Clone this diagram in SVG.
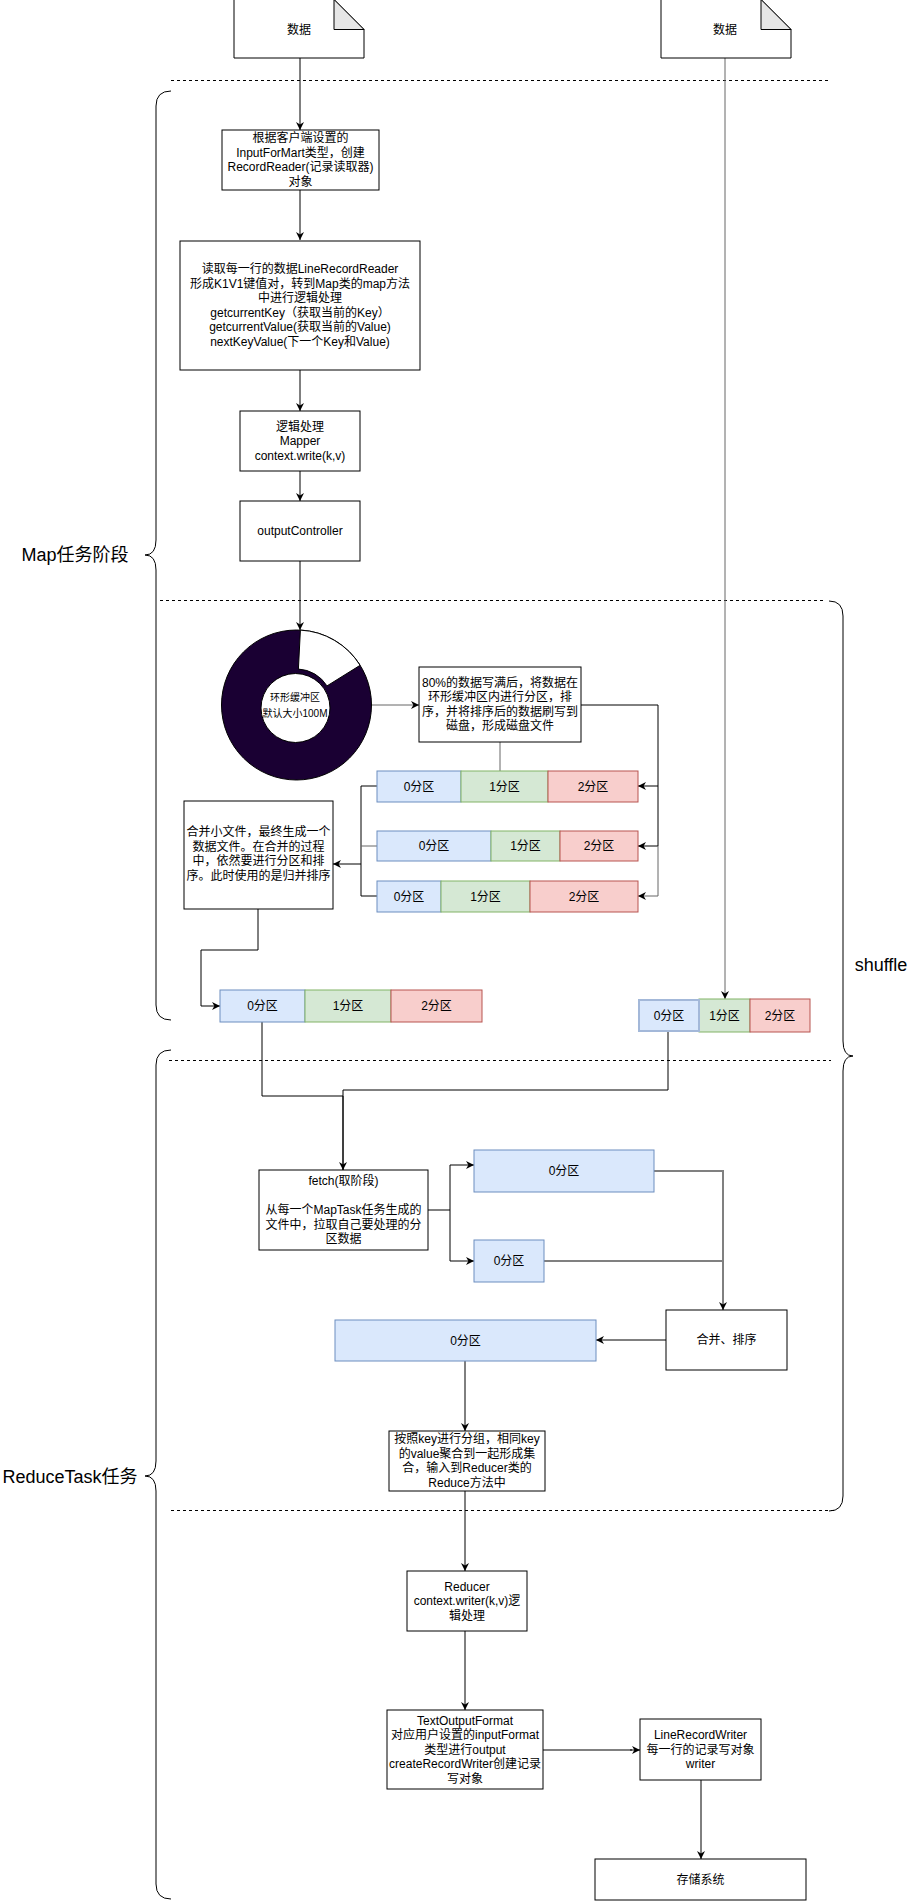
<svg xmlns="http://www.w3.org/2000/svg" width="910" height="1901" viewBox="0 0 910 1901">
<style>
text{font-family:"Liberation Sans","Noto Sans CJK SC",sans-serif;font-size:12px;fill:#000;text-anchor:middle;dominant-baseline:central}
.box{fill:#fff;stroke:#000;stroke-width:1}
.blue{fill:#dae8fc;stroke:#6c8ebf;stroke-width:1}
.green{fill:#d5e8d4;stroke:#82b366;stroke-width:1}
.red{fill:#f8cecc;stroke:#b85450;stroke-width:1}
.dash{stroke:#000;stroke-width:1;stroke-dasharray:3 3;fill:none}
.brace{fill:none;stroke:#000;stroke-width:1}
.c{fill:none;stroke:#000;stroke-width:1}
.g{fill:none;stroke:#666;stroke-width:1}
.g2{fill:none;stroke:#808080;stroke-width:2}
.big{font-size:18px}
.small{font-size:10px}
</style>
<defs>
<marker id="arr" viewBox="0 0 10 10" refX="10" refY="5" markerWidth="8" markerHeight="8" markerUnits="userSpaceOnUse" orient="auto">
<path d="M0,0 L10,5 L0,10 L3,5 Z" fill="#000"/>
</marker>
</defs>
<rect width="910" height="1901" fill="#fff"/>

<!-- section separators and braces -->
<g id="sections">
<line class="dash" x1="171" y1="80.5" x2="829" y2="80.5"/>
<line class="dash" x1="160" y1="600.5" x2="826" y2="600.5"/>
<line class="dash" x1="169" y1="1060.5" x2="831" y2="1060.5"/>
<line class="dash" x1="171" y1="1510.5" x2="836" y2="1510.5"/>
<path class="brace" d="M171,91 Q156,91 156,106 V540 Q156,555 145,555 Q156,555 156,570 V1005 Q156,1020 171,1020"/>
<path class="brace" d="M171,1050 Q156,1050 156,1065 V1461 Q156,1476 145,1476 Q156,1476 156,1491 V1884 Q156,1899 171,1899"/>
<path class="brace" d="M829,601 Q843,601 843,616 V1041 Q843,1056 853,1056 Q843,1056 843,1071 V1496 Q843,1511 829,1511"/>
<text class="big" x="75" y="555">Map任务阶段</text>
<text class="big" x="70" y="1477">ReduceTask任务</text>
<text class="big" x="881" y="965">shuffle</text>
</g>

<!-- connectors -->
<g id="connectors">
<path class="c" d="M300,58 V130" marker-end="url(#arr)"/>
<path class="c" d="M300,190 V240" marker-end="url(#arr)"/>
<path class="c" d="M300,370 V411" marker-end="url(#arr)"/>
<path class="c" d="M300,471 V501" marker-end="url(#arr)"/>
<path class="c" d="M300,561 V630" marker-end="url(#arr)"/>
<path class="g" d="M372,705 H419" marker-end="url(#arr)"/>
<path class="c" d="M581,705 H658 V786 H638" marker-end="url(#arr)"/>
<path class="c" d="M658,786 V846 H638" marker-end="url(#arr)"/>
<path class="g" d="M658,846 V896 H638" marker-end="url(#arr)"/>
<path class="g" d="M500,742 V771"/>
<path class="c" d="M377,786 H361 V864 H333" marker-end="url(#arr)"/>
<path class="g" d="M377,846 H361"/>
<path class="c" d="M377,896 H361 V864"/>
<path class="c" d="M258,909 V950 H201 V1006 H220" marker-end="url(#arr)"/>
<path class="g" d="M725,58 V999" marker-end="url(#arr)"/>
<path class="c" d="M262,1022 V1096 H343 V1170" marker-end="url(#arr)"/>
<path class="c" d="M668,1032 V1090 H343 V1170"/>
<path class="c" d="M428,1210 H450 V1165 H474" marker-end="url(#arr)"/>
<path class="c" d="M450,1210 V1261 H474" marker-end="url(#arr)"/>
<path class="g2" d="M654,1171 H723 V1261"/>
<path class="c" d="M723,1261 V1310" marker-end="url(#arr)"/>
<path class="g2" d="M544,1261 H723"/>
<path class="c" d="M666,1340 H596" marker-end="url(#arr)"/>
<path class="c" d="M465,1361 V1431" marker-end="url(#arr)"/>
<path class="c" d="M465,1491 V1571" marker-end="url(#arr)"/>
<path class="c" d="M465,1631 V1710" marker-end="url(#arr)"/>
<path class="g2" d="M543,1750 H632"/>
<path class="c" d="M630,1750 H640" marker-end="url(#arr)"/>
<path class="c" d="M701,1780 V1859" marker-end="url(#arr)"/>
</g>

<!-- nodes -->
<g id="doc1">
<path d="M234,-0.5 H334 L364,29.5 V58 H234 Z" fill="#fff" stroke="#000"/>
<path d="M334,-0.5 V29.5 H364 Z" fill="#e6e6e6" stroke="#000"/>
<text x="299" y="30">数据</text>
</g>
<g id="doc2">
<path d="M661,-0.5 H761 L791,29.5 V58 H661 Z" fill="#fff" stroke="#000"/>
<path d="M761,-0.5 V29.5 H791 Z" fill="#e6e6e6" stroke="#000"/>
<text x="725" y="30">数据</text>
</g>
<g id="box1">
<rect class="box" x="222" y="130" width="157" height="60"/>
<text x="300.5" y="138.25">根据客户端设置的</text>
<text x="300.5" y="152.75">InputForMart类型，创建</text>
<text x="300.5" y="167.25">RecordReader(记录读取器)</text>
<text x="300.5" y="181.75">对象</text>
</g>
<g id="box2">
<rect class="box" x="180" y="241" width="240" height="129"/>
<text x="300" y="269.25">读取每一行的数据LineRecordReader</text>
<text x="300" y="283.75">形成K1V1键值对，转到Map类的map方法</text>
<text x="300" y="298.25">中进行逻辑处理</text>
<text x="300" y="312.75">getcurrentKey（获取当前的Key）</text>
<text x="300" y="327.25">getcurrentValue(获取当前的Value)</text>
<text x="300" y="341.75">nextKeyValue(下一个Key和Value)</text>
</g>
<g id="box3">
<rect class="box" x="240" y="411" width="120" height="60"/>
<text x="300" y="426.5">逻辑处理</text>
<text x="300" y="441">Mapper</text>
<text x="300" y="455.5">context.write(k,v)</text>
</g>
<g id="box4">
<rect class="box" x="240" y="501" width="120" height="60"/>
<text x="300" y="531">outputController</text>
</g>
<g id="donut">
<circle cx="296.5" cy="705" r="75" fill="#1a0033" stroke="#000"/>
<path d="M300.4,630.1 A75,75 0 0 1 360.1,665.3 L327.0,685.9 A36,36 0 0 0 298.4,669.05 Z" fill="#fff" stroke="#000"/>
<circle cx="295.5" cy="708" r="34.5" fill="#fff" stroke="#000"/>
<text class="small" x="295" y="697">环形缓冲区</text>
<text class="small" x="295" y="713">默认大小100M</text>
</g>
<g id="spill">
<rect class="box" x="419" y="667" width="162" height="75"/>
<text x="500" y="682.75">80%的数据写满后，将数据在</text>
<text x="500" y="697.25">环形缓冲区内进行分区，排</text>
<text x="500" y="711.75">序，并将排序后的数据刷写到</text>
<text x="500" y="726.25">磁盘，形成磁盘文件</text>
</g>
<g id="bar1">
<rect class="blue" x="377" y="771" width="84" height="31"/>
<rect class="green" x="461" y="771" width="87" height="31"/>
<rect class="red" x="548" y="771" width="90" height="31"/>
<text x="419" y="786.5">0分区</text>
<text x="504.5" y="786.5">1分区</text>
<text x="593" y="786.5">2分区</text>
</g>
<g id="bar2">
<rect class="blue" x="377" y="831" width="114" height="30"/>
<rect class="green" x="491" y="831" width="69" height="30"/>
<rect class="red" x="560" y="831" width="78" height="30"/>
<text x="434" y="846">0分区</text>
<text x="525.5" y="846">1分区</text>
<text x="599" y="846">2分区</text>
</g>
<g id="bar3">
<rect class="blue" x="377" y="881" width="64" height="31"/>
<rect class="green" x="441" y="881" width="89" height="31"/>
<rect class="red" x="530" y="881" width="108" height="31"/>
<text x="409" y="896.5">0分区</text>
<text x="485.5" y="896.5">1分区</text>
<text x="584" y="896.5">2分区</text>
</g>
<g id="merge1">
<rect class="box" x="184" y="801" width="149" height="108"/>
<text x="258.5" y="832.25">合并小文件，最终生成一个</text>
<text x="258.5" y="846.75">数据文件。在合并的过程</text>
<text x="258.5" y="861.25">中，依然要进行分区和排</text>
<text x="258.5" y="875.75">序。此时使用的是归并排序</text>
</g>
<g id="bar4">
<rect class="blue" x="220" y="990" width="85" height="32"/>
<rect class="green" x="305" y="990" width="86" height="32"/>
<rect class="red" x="391" y="990" width="91" height="32"/>
<text x="262.5" y="1006">0分区</text>
<text x="348" y="1006">1分区</text>
<text x="436.5" y="1006">2分区</text>
</g>
<g id="bar5">
<rect class="green" x="699" y="999" width="51" height="33"/>
<rect class="red" x="750" y="999" width="60" height="33"/>
<rect x="639" y="1000" width="60" height="31" fill="#dae8fc" stroke="#a3b8d9" stroke-width="2"/>
<text x="669" y="1015.5">0分区</text>
<text x="724.5" y="1015.5">1分区</text>
<text x="780" y="1015.5">2分区</text>
</g>
<g id="fetch">
<rect class="box" x="259" y="1170" width="169" height="80"/>
<text x="343.5" y="1181">fetch(取阶段)</text>
<text x="343.5" y="1210">从每一个MapTask任务生成的</text>
<text x="343.5" y="1224.5">文件中，拉取自己要处理的分</text>
<text x="343.5" y="1239">区数据</text>
</g>
<g id="partA">
<rect class="blue" x="474" y="1150" width="180" height="42"/>
<text x="564" y="1171">0分区</text>
</g>
<g id="partB">
<rect class="blue" x="474" y="1240" width="70" height="42"/>
<text x="509" y="1261">0分区</text>
</g>
<g id="mergesort">
<rect class="box" x="666" y="1310" width="121" height="60"/>
<text x="726.5" y="1340">合并、排序</text>
</g>
<g id="partC">
<rect class="blue" x="335" y="1320" width="261" height="41"/>
<text x="465.5" y="1340.5">0分区</text>
</g>
<g id="group">
<rect class="box" x="389" y="1431" width="156" height="60"/>
<text x="467" y="1439.25">按照key进行分组，相同key</text>
<text x="467" y="1453.75">的value聚合到一起形成集</text>
<text x="467" y="1468.25">合，输入到Reducer类的</text>
<text x="467" y="1482.75">Reduce方法中</text>
</g>
<g id="reducer">
<rect class="box" x="407" y="1571" width="120" height="60"/>
<text x="467" y="1586.5">Reducer</text>
<text x="467" y="1601">context.writer(k,v)逻</text>
<text x="467" y="1615.5">辑处理</text>
</g>
<g id="tof">
<rect class="box" x="387" y="1710" width="156" height="79"/>
<text x="465" y="1720.5">TextOutputFormat</text>
<text x="465" y="1735">对应用户设置的inputFormat</text>
<text x="465" y="1749.5">类型进行output</text>
<text x="465" y="1764">createRecordWriter创建记录</text>
<text x="465" y="1778.5">写对象</text>
</g>
<g id="lrw">
<rect class="box" x="640" y="1719" width="121" height="61"/>
<text x="700.5" y="1735">LineRecordWriter</text>
<text x="700.5" y="1749.5">每一行的记录写对象</text>
<text x="700.5" y="1764">writer</text>
</g>
<g id="storage">
<rect class="box" x="595" y="1859" width="211" height="41"/>
<text x="700.5" y="1880">存储系统</text>
</g>
</svg>
